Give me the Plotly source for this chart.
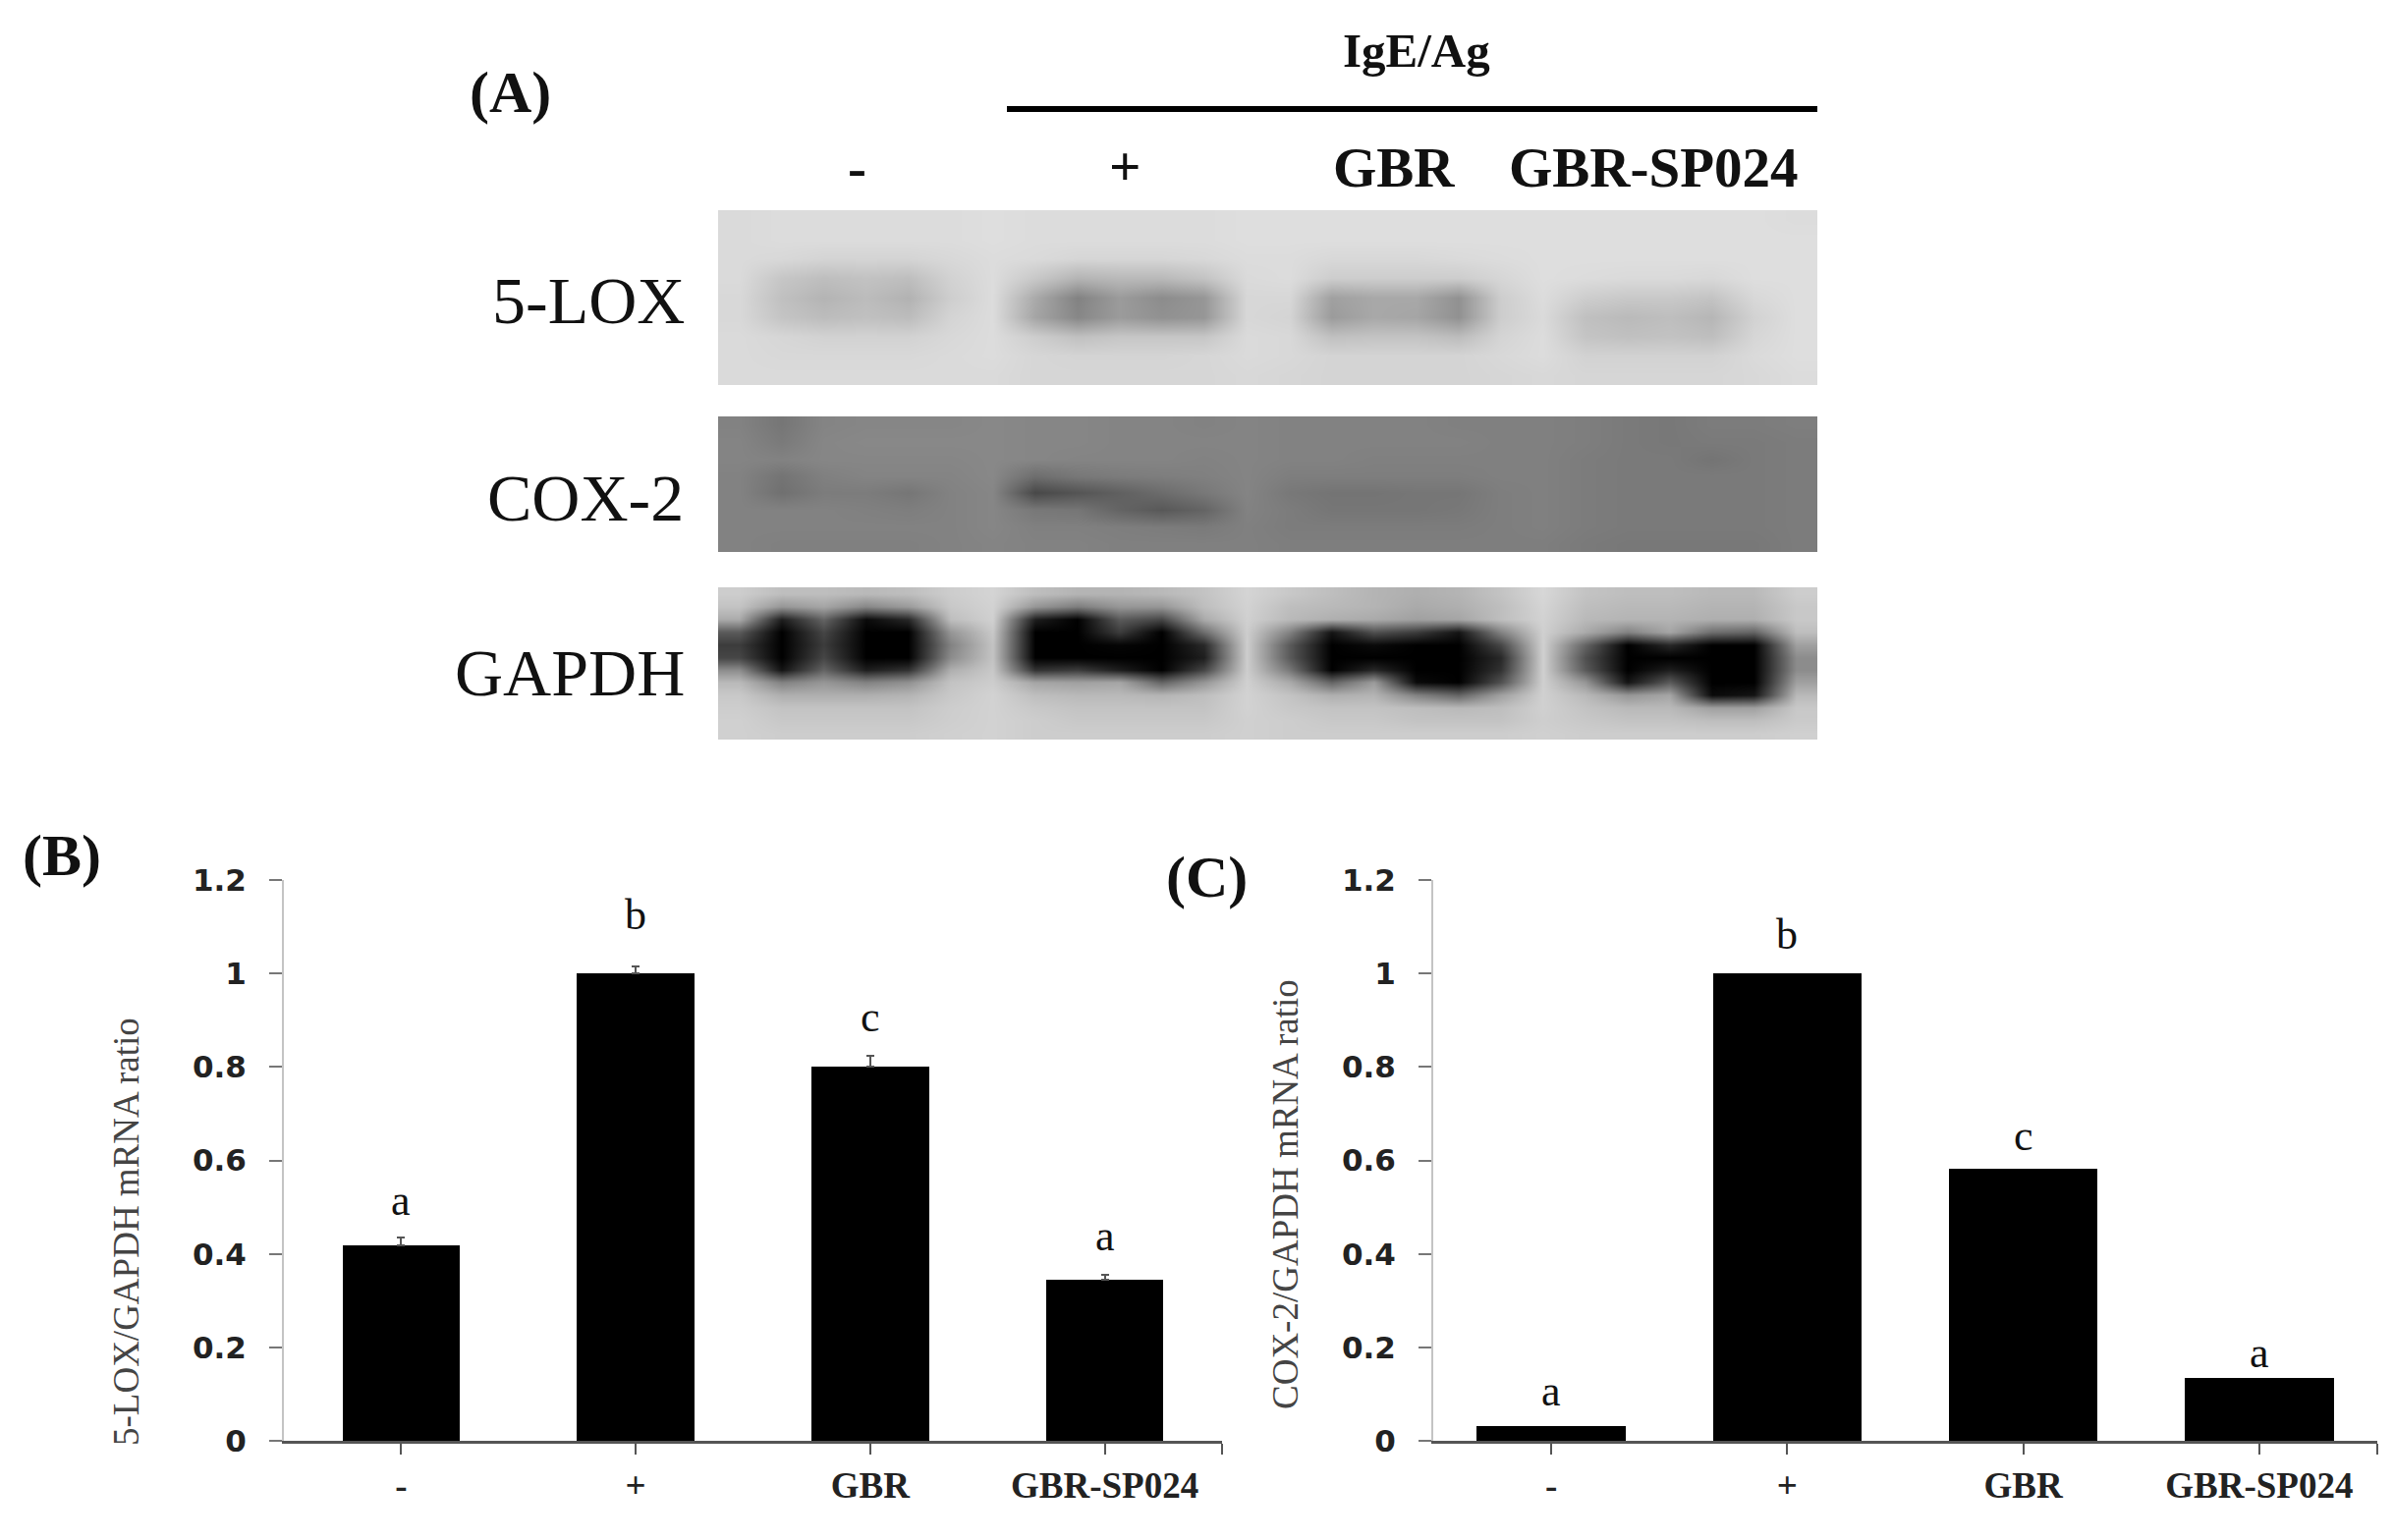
#!/usr/bin/env python3
import plotly.graph_objects as go

W, H = 2436, 1568

categories = ["-", "+", "GBR", "GBR-SP024"]
lox_values = [0.419, 1.0, 0.801, 0.344]
lox_errors = [0.015, 0.016, 0.022, 0.012]
lox_letters = ["a", "b", "c", "a"]
lox_letter_y = [0.514, 1.125, 0.907, 0.438]
cox_values = [0.032, 1.0, 0.582, 0.134]
cox_letters = ["a", "b", "c", "a"]
cox_letter_y = [0.107, 1.083, 0.653, 0.188]
y_ticks = [0, 0.2, 0.4, 0.6, 0.8, 1, 1.2]
y_tick_text = ["0", "0.2", "0.4", "0.6", "0.8", "1", "1.2"]

# grey levels of the blots on a coarse grid
blot_lox = [
    [218, 220, 220, 220, 220, 220, 222, 220, 220, 220, 220, 220, 222, 222, 222, 222, 222, 222, 222, 222, 222, 222, 222, 222, 222, 220],
    [218, 220, 220, 220, 220, 220, 222, 220, 220, 220, 220, 220, 222, 222, 222, 222, 222, 222, 222, 222, 222, 222, 222, 222, 222, 222],
    [218, 216, 212, 212, 212, 216, 220, 218, 214, 214, 214, 216, 220, 220, 216, 216, 216, 218, 220, 222, 222, 222, 222, 222, 222, 222],
    [218, 198, 190, 194, 190, 210, 220, 200, 180, 185, 185, 195, 218, 220, 205, 205, 205, 205, 214, 222, 220, 218, 218, 216, 222, 222],
    [216, 192, 180, 188, 178, 206, 220, 170, 130, 155, 140, 150, 215, 215, 160, 168, 168, 145, 205, 220, 205, 200, 200, 195, 216, 222],
    [216, 196, 188, 192, 188, 212, 220, 165, 135, 155, 145, 150, 215, 212, 155, 168, 165, 145, 205, 218, 192, 186, 190, 182, 210, 222],
    [218, 214, 210, 210, 210, 216, 220, 205, 192, 198, 198, 198, 218, 216, 192, 195, 195, 188, 212, 220, 196, 192, 194, 190, 214, 222],
    [218, 216, 216, 216, 216, 218, 220, 214, 212, 212, 212, 214, 218, 216, 212, 212, 212, 212, 216, 220, 210, 210, 210, 210, 218, 222],
    [218, 218, 218, 218, 218, 218, 218, 214, 214, 214, 214, 214, 216, 214, 212, 212, 212, 212, 214, 216, 214, 214, 214, 214, 216, 220],
]
blot_cox = [
    [130, 118, 132, 134, 134, 134, 136, 134, 134, 132, 132, 130, 132, 130, 130, 130, 130, 128, 128, 128, 126, 122, 120, 124, 124, 126],
    [132, 122, 134, 136, 136, 136, 136, 134, 134, 132, 132, 132, 132, 130, 130, 130, 130, 130, 128, 128, 126, 122, 120, 122, 122, 124],
    [132, 130, 134, 134, 134, 134, 136, 134, 132, 132, 132, 130, 132, 130, 130, 128, 128, 128, 128, 128, 124, 122, 122, 116, 122, 124],
    [130, 116, 128, 132, 132, 132, 136, 110, 120, 124, 126, 128, 132, 126, 126, 126, 126, 126, 128, 128, 124, 122, 122, 122, 122, 124],
    [130, 112, 124, 124, 118, 130, 134, 72, 84, 96, 108, 120, 132, 120, 116, 116, 118, 118, 126, 128, 124, 122, 122, 122, 122, 124],
    [130, 130, 130, 128, 126, 130, 134, 120, 118, 100, 88, 100, 130, 124, 118, 118, 118, 120, 126, 128, 124, 122, 122, 122, 122, 124],
    [130, 130, 130, 130, 130, 130, 134, 128, 128, 126, 124, 122, 128, 124, 124, 124, 124, 124, 126, 128, 124, 122, 122, 122, 122, 124],
    [130, 128, 128, 128, 128, 130, 132, 130, 130, 128, 128, 128, 128, 126, 126, 126, 126, 126, 126, 126, 122, 120, 120, 120, 120, 124],
]
blot_gapdh = [
    [205, 190, 190, 185, 190, 205, 212, 190, 180, 180, 185, 195, 212, 200, 190, 180, 175, 180, 195, 215, 195, 190, 190, 185, 185, 205],
    [195, 150, 165, 135, 155, 200, 210, 150, 125, 150, 150, 190, 210, 190, 185, 180, 170, 175, 190, 212, 190, 185, 185, 180, 180, 200],
    [170, 30, 100, 10, 40, 190, 208, 30, 0, 90, 70, 170, 208, 185, 175, 170, 160, 165, 190, 210, 185, 180, 180, 175, 175, 200],
    [90, 0, 70, 0, 0, 150, 200, 0, 0, 60, 0, 110, 205, 130, 20, 80, 60, 20, 130, 208, 170, 130, 165, 110, 100, 190],
    [60, 0, 60, 0, 0, 130, 195, 0, 0, 5, 0, 40, 205, 90, 0, 10, 0, 0, 70, 208, 100, 0, 40, 0, 0, 160],
    [70, 0, 70, 0, 0, 140, 195, 0, 0, 0, 0, 30, 205, 90, 0, 0, 0, 0, 40, 208, 80, 0, 0, 0, 0, 140],
    [140, 20, 100, 30, 50, 175, 200, 50, 60, 30, 0, 70, 205, 120, 0, 40, 0, 0, 50, 208, 90, 0, 30, 0, 0, 140],
    [185, 130, 150, 130, 145, 195, 205, 165, 160, 165, 100, 150, 208, 170, 100, 155, 10, 0, 80, 208, 150, 20, 90, 0, 0, 160],
    [200, 175, 175, 175, 180, 200, 210, 190, 185, 185, 180, 190, 210, 195, 175, 180, 130, 100, 160, 208, 185, 150, 165, 10, 20, 185],
    [205, 195, 195, 195, 195, 205, 210, 200, 195, 195, 195, 195, 210, 200, 195, 195, 190, 185, 190, 208, 195, 185, 185, 160, 160, 200],
    [208, 200, 200, 200, 200, 206, 210, 205, 200, 200, 200, 200, 208, 205, 200, 200, 195, 195, 195, 206, 200, 195, 195, 190, 190, 202],
    [208, 205, 205, 205, 205, 208, 210, 205, 205, 205, 205, 205, 208, 205, 205, 205, 205, 205, 205, 208, 205, 205, 205, 205, 205, 208],
]


def px(x):
    return x / W


def py(y):
    return 1 - y / H


SERIF = "Liberation Serif"
TICKFONT = "DejaVu Sans"
GREYS = [[0, "#000000"], [1, "#ffffff"]]


def note(text, x, y, size, bold=False, color="#111111", xanchor="center", angle=0):
    label = f"<b>{text}</b>" if bold else text
    return dict(text=label, x=px(x), y=py(y), xref="paper", yref="paper", showarrow=False,
                xanchor=xanchor, yanchor="middle", textangle=angle,
                font=dict(family=SERIF, size=size, color=color))


fig = go.Figure()

# bar panels
fig.add_trace(go.Bar(x=list(range(4)), y=lox_values, width=0.5, marker=dict(color="#000000", line_width=0),
                     error_y=dict(type="data", symmetric=False, array=lox_errors, arrayminus=[0] * 4,
                                  color="#555555", thickness=2, width=4),
                     xaxis="x", yaxis="y"))
fig.add_trace(go.Bar(x=list(range(4)), y=cox_values, width=0.63, marker=dict(color="#000000", line_width=0),
                     xaxis="x2", yaxis="y2"))

# blots
blots = [(blot_lox, 214, 392), (blot_cox, 424, 562), (blot_gapdh, 598, 753)]
axes = {}
for i, (z, top, bottom) in enumerate(blots):
    n = i + 3
    fig.add_trace(go.Heatmap(z=z, zmin=0, zmax=255, colorscale=GREYS, showscale=False, zsmooth="best",
                             xaxis=f"x{n}", yaxis=f"y{n}", hoverinfo="skip"))
    axes[f"xaxis{n}"] = dict(domain=[px(731), px(1850)], range=[-0.5, len(z[0]) - 0.5], visible=False, anchor=f"y{n}")
    axes[f"yaxis{n}"] = dict(domain=[py(bottom), py(top)], range=[len(z) - 0.5, -0.5], visible=False, anchor=f"x{n}")


def x_axis(left, right):
    return dict(domain=[px(left), px(right)], range=[-0.5, 3.5], tickmode="array",
                tickvals=[0, 1, 2, 3, 3.5], ticktext=categories + [""],
                showline=True, linecolor="#555555", linewidth=3, ticks="outside", ticklen=11,
                tickcolor="#555555", tickwidth=2, ticklabelstandoff=0, showgrid=False, zeroline=False,
                tickfont=dict(family=SERIF, size=37, color="#222222", weight="bold"))


def y_axis():
    return dict(domain=[py(1467), py(896)], range=[0, 1.2], tickmode="array", tickvals=y_ticks,
                ticktext=y_tick_text, showline=True, linecolor="#c4c4c4", linewidth=2, ticks="outside",
                ticklen=13, tickcolor="#777777", tickwidth=2, ticklabelstandoff=17, showgrid=False, zeroline=False,
                tickfont=dict(family=TICKFONT, size=31, color="#222222", weight="bold"))


notes = [
    note("(A)", 519, 94, 60, bold=True),
    note("(B)", 63, 871, 60, bold=True),
    note("(C)", 1228, 893, 60, bold=True),
    note("IgE/Ag", 1442, 51, 49, bold=True),
    note("-", 872, 171, 57, bold=True),
    note("+", 1145, 169, 57, bold=True),
    note("GBR", 1419, 171, 57, bold=True),
    note("GBR-SP024", 1683, 171, 57, bold=True),
    note("5-LOX", 699, 306, 68, xanchor="right"),
    note("COX-2", 698, 507, 68, xanchor="right"),
    note("GAPDH", 699, 685, 68, xanchor="right"),
    note("5-LOX/GAPDH mRNA ratio", 128, 1254, 37, color="#444444", angle=-90),
    note("COX-2/GAPDH mRNA ratio", 1308, 1216, 37, color="#444444", angle=-90),
]
for i in range(4):
    notes.append(dict(text=lox_letters[i], x=i, y=lox_letter_y[i], xref="x", yref="y", showarrow=False,
                      font=dict(family=SERIF, size=44, color="#111111")))
    notes.append(dict(text=cox_letters[i], x=i, y=cox_letter_y[i], xref="x2", yref="y2", showarrow=False,
                      font=dict(family=SERIF, size=44, color="#111111")))

fig.update_layout(
    width=W, height=H, margin=dict(l=0, r=0, t=0, b=0, autoexpand=False), paper_bgcolor="white", plot_bgcolor="white",
    showlegend=False, bargap=0,
    xaxis=dict(x_axis(289, 1244), anchor="y"),
    yaxis=dict(y_axis(), anchor="x"),
    xaxis2=dict(x_axis(1459, 2420), anchor="y2"),
    yaxis2=dict(y_axis(), anchor="x2"),
    annotations=notes,
    shapes=[dict(type="line", xref="paper", yref="paper", x0=px(1025), x1=px(1850), y0=py(111), y1=py(111),
                 line=dict(color="#000000", width=6))],
    **axes,
)

fig.write_html("out.html", config={"displayModeBar": False}, post_script="document.body.style.margin='0';")
